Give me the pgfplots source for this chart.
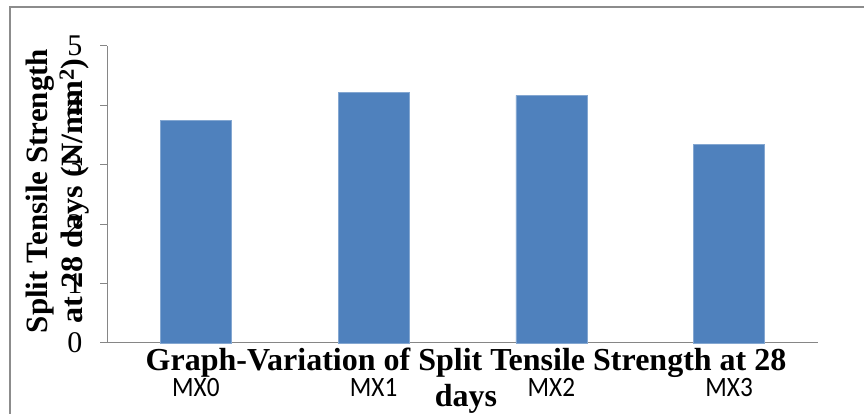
\documentclass[border=0pt]{standalone}
\usepackage{pgfplots}
\pgfplotsset{compat=1.18}
\usepackage{fontspec}
\setmainfont{Liberation Serif}
\newfontfamily\calibri{Carlito}

\definecolor{barblue}{HTML}{4F81BD}
\definecolor{axisgray}{HTML}{868686}
\definecolor{framegray}{HTML}{8C8C8C}

\begin{document}
\begin{tikzpicture}[x=1pt,y=1pt]
  \useasboundingbox (0,0) rectangle (864,414);
  % chart frame (runs off the right and bottom edges)
  \draw[framegray, line width=1.2pt] (10,-10) -- (10,407) -- (880,407);

  \begin{axis}[
    at={(107pt,71pt)}, anchor=south west,
    scale only axis,
    width=711pt, height=297pt,
    xmin=-0.5, xmax=3.5,
    ymin=0, ymax=5,
    axis x line=bottom, axis y line=left,
    axis line style={axisgray, line width=1pt, -},
    ytick={0,1,2,3,4,5},
    xtick={0,1,2,3},
    xticklabels={MX0,MX1,MX2,MX3},
    minor xtick={-0.5,0.5,1.5,2.5,3.5},
    xtick style={draw=none},
    minor x tick style={axisgray, line width=1pt},
    ytick style={axisgray, line width=1pt},
    tick align=outside,
    major tick length=7pt, minor tick length=7pt,
    /pgf/number format/assume math mode=true,
    yticklabel style={font=\fontsize{30}{30}\selectfont, xshift=-14pt},
    xticklabel style={font=\calibri\fontsize{28}{28}\selectfont, yshift=-25pt, xscale=0.9},
    ybar, bar width=71pt, bar shift=0pt,
    clip=false,
  ]
    \addplot[fill=barblue, draw=barblue!70!white, line width=0.6pt]
      coordinates {(0,3.75) (1,4.22) (2,4.17) (3,3.34)};
  \end{axis}

  % axis title (two lines, rotated)
  \node[rotate=90, align=center, font=\bfseries\fontsize{31}{35}\selectfont]
    at (58,223) {Split Tensile Strength\\ \scalebox{1.04}[1]{at 28 days (N/mm\textsuperscript{2})}};

  % chart title below the plot
  \node[align=center, font=\bfseries\fontsize{32}{36}\selectfont]
    at (466,33) {Graph-Variation of Split Tensile Strength at 28\\ days};
\end{tikzpicture}
\end{document}
